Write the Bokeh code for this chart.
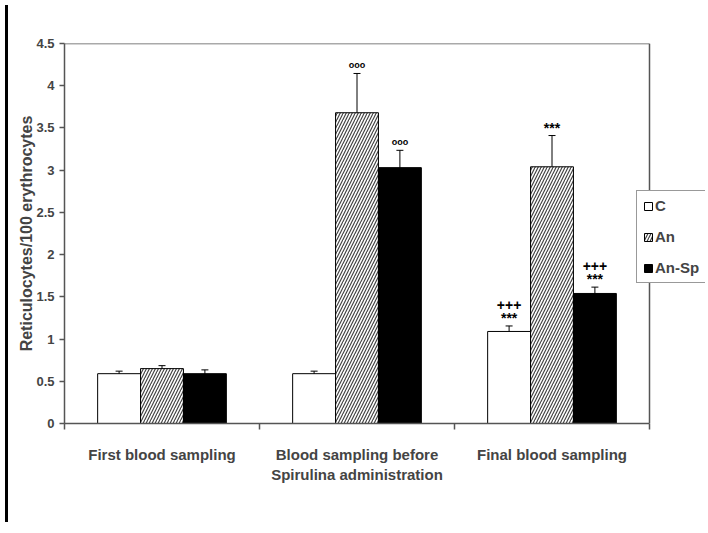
from bokeh.plotting import figure
from bokeh.models import (ColumnDataSource, Range1d, FixedTicker, Whisker, TeeHead,
                          Legend, LegendItem, Div, Span)
from bokeh.layouts import row
from bokeh.transform import dodge
from bokeh.core.properties import value
from bokeh.embed import file_html
from bokeh.resources import INLINE

# ---- data ----
groups = ["First blood sampling",
          "Blood sampling before\nSpirulina administration",
          "Final blood sampling"]
series = ["C", "An", "An-Sp"]
c_vals = [0.59, 0.59, 1.09]
c_err = [0.03, 0.03, 0.065]
an_vals = [0.65, 3.68, 3.04]
an_err = [0.035, 0.465, 0.37]
ansp_vals = [0.59, 3.03, 1.54]
ansp_err = [0.045, 0.205, 0.075]
# significance marks
c_ooo = ["", "", ""]
c_star = ["", "", "***"]
c_plus = ["", "", "+++"]
an_ooo = ["", "ooo", ""]
an_star = ["", "", "***"]
an_plus = ["", "", ""]
ansp_ooo = ["", "ooo", ""]
ansp_star = ["", "", "***"]
ansp_plus = ["", "", "+++"]
y_ticks = [0, 0.5, 1, 1.5, 2, 2.5, 3, 3.5, 4, 4.5]
y_tick_labels = ["0", "0.5", "1", "1.5", "2", "2.5", "3", "3.5", "4", "4.5"]

FONT = "Liberation Sans"
n = len(groups)
xc = [i + 0.5 for i in range(n)]

W, H = 692, 506
BL, BR, BT, BB = 51, 0, 43, 83
frame_w = W - BL - BR
groups_px = 585
x_end = n * frame_w / groups_px

p = figure(width=W, height=H, x_range=Range1d(0, x_end), y_range=Range1d(0, 4.5),
           output_backend="svg", toolbar_location=None,
           min_border_left=BL, min_border_right=BR, min_border_top=BT, min_border_bottom=BB)
p.xgrid.visible = False
p.ygrid.visible = False
p.outline_line_color = None
p.background_fill_color = "white"
p.border_fill_color = "white"

# plot-area border (top and right), limited to the category span
p.segment(x0=[0], x1=[n], y0=[4.5], y1=[4.5], line_color="#555555", line_width=1.5)
p.add_layout(Span(location=n, dimension="height", line_color="#555555", line_width=1.5))

bw = 0.22
offsets = [-bw, 0.0, bw]
vals = [c_vals, an_vals, ansp_vals]
errs = [c_err, an_err, ansp_err]
ooos = [c_ooo, an_ooo, ansp_ooo]
stars = [c_star, an_star, ansp_star]
pluses = [c_plus, an_plus, ansp_plus]

renderers = []
for k in range(3):
    src = ColumnDataSource(dict(
        xc=xc, top=vals[k],
        up=[v + e for v, e in zip(vals[k], errs[k])],
        lo=[v - e for v, e in zip(vals[k], errs[k])],
        ooo=ooos[k], star=stars[k], plus=pluses[k]))
    xs = dodge("xc", offsets[k], range=p.x_range)
    if k == 0:
        r = p.vbar(x=xs, top="top", width=bw, source=src, fill_color="white",
                   line_color="black", line_width=1)
    elif k == 1:
        r = p.vbar(x=xs, top="top", width=bw, source=src, fill_color="white",
                   line_color="black", line_width=1,
                   hatch_pattern="right_diagonal_line", hatch_color="#444444",
                   hatch_scale=6, hatch_weight=1.2)
    else:
        r = p.vbar(x=xs, top="top", width=bw, source=src, fill_color="black",
                   line_color="black", line_width=1)
    renderers.append(r)
    w = Whisker(base=xs, upper="up", lower="lo", source=src, dimension="height",
                line_color="black", line_width=1,
                upper_head=TeeHead(size=7, line_color="black", line_width=1),
                lower_head=TeeHead(size=7, line_color="black", line_width=1))
    p.add_layout(w)
    p.text(x=xs, y="up", text="ooo", source=src, text_align="center",
           text_baseline="middle", y_offset=-8, text_font=value(FONT),
           text_font_style="bold", text_font_size="9px", text_color="black")
    p.text(x=xs, y="up", text="star", source=src, text_align="center",
           text_baseline="middle", y_offset=-8, text_font=value(FONT),
           text_font_style="bold", text_font_size="14px", text_color="black")
    p.text(x=xs, y="up", text="plus", source=src, text_align="center",
           text_baseline="middle", y_offset=-21, text_font=value(FONT),
           text_font_style="bold", text_font_size="14px", text_color="black")

# axes
p.yaxis.ticker = FixedTicker(ticks=y_ticks)
p.yaxis.major_label_overrides = {t: l for t, l in zip(y_ticks, y_tick_labels)}
p.yaxis.axis_label = "Reticulocytes/100 erythrocytes"
p.yaxis.axis_label_text_font = FONT
p.yaxis.axis_label_text_font_style = "bold"
p.yaxis.axis_label_text_font_size = "16px"
p.yaxis.axis_label_standoff = -2
p.yaxis.major_label_text_font = FONT
p.yaxis.major_label_text_font_style = "bold"
p.yaxis.major_label_text_font_size = "13px"
p.yaxis.major_tick_in = 0
p.yaxis.major_tick_out = 5
p.yaxis.major_label_standoff = 5

p.xaxis.ticker = FixedTicker(ticks=xc, minor_ticks=list(range(n + 1)))
p.xaxis.bounds = (0, n)
p.xaxis.major_label_overrides = {x: g for x, g in zip(xc, groups)}
p.xaxis.major_tick_in = 0
p.xaxis.major_tick_out = 0
p.xaxis.minor_tick_in = 0
p.xaxis.minor_tick_out = 6
p.xaxis.major_label_standoff = 16
p.xaxis.major_label_text_font = FONT
p.xaxis.major_label_text_font_style = "bold"
p.xaxis.major_label_text_font_size = "15px"

for ax in (p.xaxis[0], p.yaxis[0]):
    ax.axis_line_color = "#555555"
    ax.axis_line_width = 1.5
    ax.major_tick_line_color = "#555555"
    ax.major_tick_line_width = 1.5
    ax.minor_tick_line_width = 1.5
p.xaxis.minor_tick_line_color = "#555555"
p.yaxis.minor_tick_line_color = None

legend = Legend(items=[LegendItem(label=s, renderers=[r]) for s, r in zip(series, renderers)],
                location=(572, 140), orientation="vertical",
                label_text_font=FONT, label_text_font_style="bold",
                label_text_font_size="15px", glyph_width=10, glyph_height=10,
                label_height=16, spacing=14, padding=6, margin=0, label_standoff=2,
                border_line_color="#333333", border_line_width=1,
                background_fill_color="white", background_fill_alpha=1.0)
p.add_layout(legend, "center")

bar = Div(width=3, height=517, styles={"background-color": "black"})
layout = row(bar, p)

open("out.html", "w").write(file_html(layout, INLINE))
